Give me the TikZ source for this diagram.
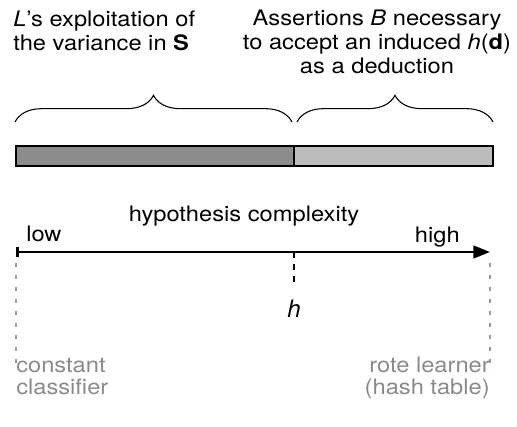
\documentclass[tikz,border=0pt]{standalone}
\usepackage{fontspec}
\setmainfont{TeX Gyre Heros}[FakeStretch=1.11]
\newfontfamily\hfont{TeX Gyre Heros}
\usepackage{tikz}
\usetikzlibrary{positioning,arrows.meta,decorations.pathreplacing}
\definecolor{darkbar}{HTML}{8C8C8C}
\definecolor{lightbar}{HTML}{BCBCBC}
\definecolor{guide}{HTML}{9A9A9A}
\definecolor{guidetext}{HTML}{8A8A8A}

\begin{document}
\begin{tikzpicture}[x=0.75pt, y=-0.75pt,
    lbl/.style={inner sep=0pt, font=\fontsize{16}{18}\selectfont},
    bracedeco/.style={decorate, decoration={brace, amplitude=20pt}, line width=0.8pt},
    guideline/.style={guide, line width=0.8pt, dash pattern=on 3pt off 6pt}]
    \useasboundingbox (0,0) rectangle (517,427);

    % Labels above the braces
    \node[lbl, anchor=north west, align=left] (exploit) at (13,11)
        {\textit{L}'s exploitation of\\the variance in \textbf{S}};
    \node[lbl, anchor=north, align=center] (assert) at (377,10)
        {Assertions \textit{B} necessary\\to accept an induced \textit{h}(\textbf{d})\\as a deduction};

    % Braces
    \coordinate (bl) at (15,122);
    \coordinate (bm) at (292,122);
    \coordinate (bm2) at (297,122);
    \coordinate (br) at (493,122);
    \draw[bracedeco] (bl) -- (bm);
    \draw[bracedeco] (bm2) -- (br);

    % Bar
    \draw[line width=0.8pt, fill=darkbar] (16,146) rectangle (294,166);
    \draw[line width=0.8pt, fill=lightbar] (294,146) rectangle (493,166);

    % Axis
    \coordinate (lowend) at (16,252);
    \coordinate (highend) at (490,252);
    \coordinate (hmark) at (294,252);
    \draw[line width=2pt, {Bar[width=7pt]}-{Triangle[length=12.5pt, width=9.5pt]}]
        (lowend) -- (highend);
    \node[lbl, anchor=base] (axislab) at (244,222) {hypothesis complexity};
    \node[lbl, anchor=base west] (low) at (26,242) {low};
    \node[lbl, anchor=base east] (high) at (460,243) {high};

    % Induced hypothesis
    \node[inner sep=0pt, anchor=base, font=\hfont\fontsize{18}{20}\selectfont] (hlab) at (294,318) {\textit{h}};
    \draw[line width=0.9pt, dash pattern=on 4.5pt off 4.5pt] (hmark) -- ++(0,36);

    % Extremes
    \node[lbl, anchor=base west, align=left, text=guidetext, font=\fontsize{16}{16.5}\selectfont] (constant) at (16,394)
        {constant\\classifier};
    \node[lbl, anchor=base east, align=right, text=guidetext, font=\fontsize{16}{16.5}\selectfont] (rote) at (490,394)
        {rote learner\\(hash table)};
    \draw[guideline] ([yshift=-8pt]lowend) -- ++(0,108);
    \draw[guideline] ([yshift=-8pt]highend) -- ++(0,108);
\end{tikzpicture}
\end{document}
